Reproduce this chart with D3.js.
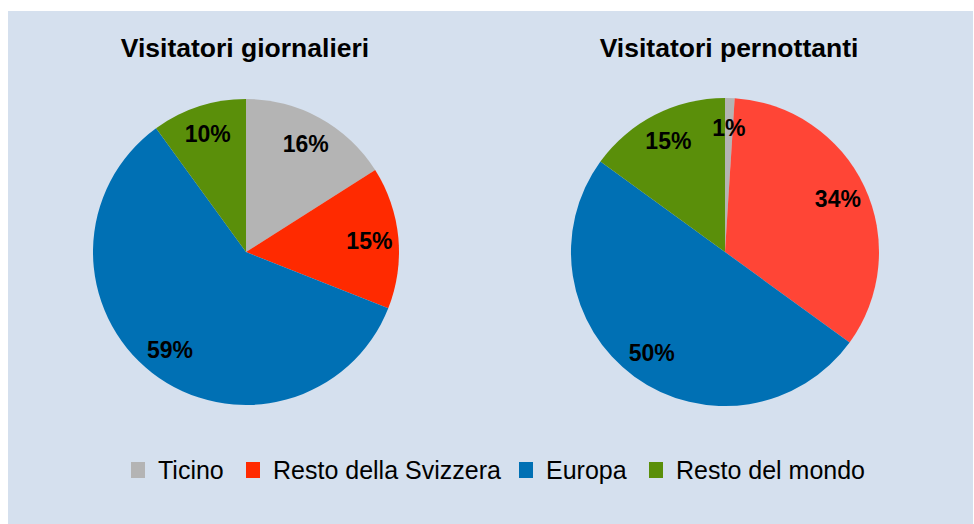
<!DOCTYPE html>
<html>
<head>
<meta charset="utf-8">
<script src="https://cdn.jsdelivr.net/npm/d3@7"></script>
<style>
  html, body { margin: 0; padding: 0; background: #ffffff; }
  svg { display: block; font-family: "Liberation Sans", Arial, Helvetica, sans-serif; }
</style>
</head>
<body>
<svg id="chart" width="974" height="524"></svg>
<script>
// Visitor origin shares (percent)
const categories = ["Ticino", "Resto della Svizzera", "Europa", "Resto del mondo"];
const dailyValues = [16, 15, 59, 10];
const overnightValues = [1, 34, 50, 15];
const chartTitles = ["Visitatori giornalieri", "Visitatori pernottanti"];

const legendColors = ["#b4b4b4", "#ff2a00", "#0070b4", "#5a8f0a"];
const overnightColors = ["#b4b4b4", "#ff4536", "#0070b4", "#5a8f0a"];

const svg = d3.select("#chart");

// light-blue panel
svg.append("rect")
  .attr("x", 8).attr("y", 11)
  .attr("width", 965).attr("height", 513)
  .attr("fill", "#d5e0ee");

const pies = [
  { title: chartTitles[0], values: dailyValues, colors: legendColors, cx: 246, cy: 252, r: 153, tx: 245 },
  { title: chartTitles[1], values: overnightValues, colors: overnightColors, cx: 725, cy: 252, r: 154, tx: 729 }
];

const pie = d3.pie().sort(null).value(d => d.value);

pies.forEach(p => {
  const g = svg.append("g").attr("transform", `translate(${p.cx},${p.cy})`);
  const data = pie(categories.map((c, i) => ({ name: c, value: p.values[i], color: p.colors[i] })));
  const arc = d3.arc().innerRadius(0).outerRadius(p.r);
  const labelArc = d3.arc().innerRadius(p.r * 0.81).outerRadius(p.r * 0.81);

  g.selectAll("path.slice")
    .data(data)
    .join("path")
    .attr("class", "slice")
    .attr("d", arc)
    .attr("fill", d => d.data.color);

  g.selectAll("text.pct")
    .data(data)
    .join("text")
    .attr("class", "pct")
    .attr("transform", d => `translate(${labelArc.centroid(d)})`)
    .attr("text-anchor", "middle")
    .attr("dy", "0.36em")
    .attr("font-size", 23)
    .attr("font-weight", "bold")
    .attr("fill", "#000")
    .text(d => d.data.value + "%");

  svg.append("text")
    .attr("x", p.tx).attr("y", 57)
    .attr("text-anchor", "middle")
    .attr("font-size", 26.5)
    .attr("font-weight", "bold")
    .attr("fill", "#000")
    .text(p.title);
});

// legend
const legendX = [131, 246, 519, 649];
const legend = svg.append("g");
categories.forEach((c, i) => {
  legend.append("rect")
    .attr("x", legendX[i]).attr("y", 462)
    .attr("width", 14).attr("height", 16)
    .attr("fill", legendColors[i]);
  legend.append("text")
    .attr("x", legendX[i] + 27).attr("y", 479)
    .attr("font-size", 25)
    .attr("fill", "#000")
    .text(c);
});
</script>
</body>
</html>
